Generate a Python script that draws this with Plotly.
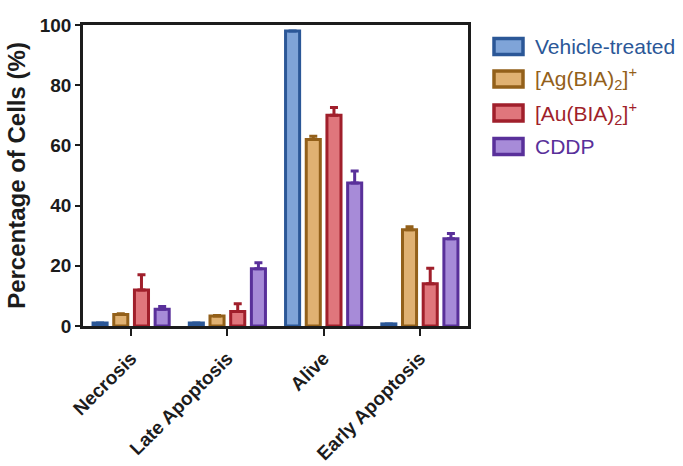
import plotly.graph_objects as go

# Flow-cytometry outcome categories
categories = ["Necrosis", "Late Apoptosis", "Alive", "Early Apoptosis"]

# Mean percentage of cells per treatment
vehicle = [1.0, 1.0, 98.0, 0.7]
ag_bia = [3.8, 3.3, 62.0, 32.0]
au_bia = [12.0, 4.8, 70.0, 14.0]
cddp = [5.6, 19.0, 47.5, 29.0]

# Upper error (SD) per treatment
vehicle_err = [0.0, 0.0, 0.0, 0.0]
ag_bia_err = [0.3, 0.2, 1.0, 1.0]
au_bia_err = [5.0, 2.6, 2.6, 5.2]
cddp_err = [0.9, 2.0, 4.0, 1.7]

series_names = ["Vehicle-treated", "[Ag(BIA)<sub>2</sub>]<sup>+</sup>",
                "[Au(BIA)<sub>2</sub>]<sup>+</sup>", "CDDP"]
fills = ["#7fa4d8", "#e0b172", "#e0767c", "#a78bd8"]
edges = ["#2b5797", "#93601a", "#a01f2b", "#59309a"]

fig = go.Figure()
for vals, errs, fill, edge in zip([vehicle, ag_bia, au_bia, cddp],
                                  [vehicle_err, ag_bia_err, au_bia_err, cddp_err],
                                  fills, edges):
    fig.add_trace(go.Bar(
        x=categories, y=vals,
        marker=dict(color=fill, line=dict(color=edge, width=3)),
        error_y=dict(type="data", symmetric=False, array=errs,
                     arrayminus=[0] * len(errs), color=edge,
                     thickness=3, width=4),
        showlegend=False,
    ))

# Legend drawn as framed swatches with coloured labels
L, R, T, B = 83, 215, 25, 140
pw, ph = 683 - L - R, 466 - T - B
centers = [46.5, 79, 113, 146.5]
for name, fill, edge, cy in zip(series_names, fills, edges, centers):
    x0 = (494 - L) / pw
    x1 = (523 - L) / pw
    y0 = (466 - B - (cy + 8)) / ph
    y1 = (466 - B - (cy - 8)) / ph
    fig.add_shape(type="rect", xref="paper", yref="paper",
                  x0=x0, x1=x1, y0=y0, y1=y1,
                  fillcolor=fill, line=dict(color=edge, width=3.5))
    fig.add_annotation(xref="paper", yref="paper",
                       x=(533 - L) / pw, y=(466 - B - cy) / ph,
                       xanchor="left", yanchor="middle", showarrow=False,
                       text=name, font=dict(family="Liberation Sans", size=21, color=edge))

axis_col = "#1c1c1c"
fig.update_layout(
    width=683, height=466,
    margin=dict(l=L, r=R, t=T, b=B, autoexpand=False),
    paper_bgcolor="white", plot_bgcolor="white",
    barmode="group", bargap=0.14, bargroupgap=0.32,
    font=dict(family="Liberation Sans", color=axis_col),
    xaxis=dict(
        range=[-0.5, 3.5], showline=True, linecolor=axis_col, linewidth=2.5,
        mirror=True, ticks="outside", ticklen=7, tickwidth=2, tickcolor=axis_col,
        tickangle=-45, showgrid=False, automargin=False, ticklabelstandoff=4,
        tickfont=dict(family="Liberation Sans", size=19, weight="bold", color=axis_col),
    ),
    yaxis=dict(
        range=[0, 100], tickvals=[0, 20, 40, 60, 80, 100],
        showline=True, linecolor=axis_col, linewidth=2.5, mirror=True,
        ticks="outside", ticklen=5, tickwidth=2, tickcolor=axis_col,
        showgrid=False, zeroline=False, automargin=False,
        tickfont=dict(family="Liberation Sans", size=19, weight="bold", color=axis_col),
        title=dict(text="Percentage of Cells (%)", standoff=8,
                   font=dict(family="Liberation Sans", size=24, weight="bold", color=axis_col)),
    ),
)

fig.write_html("out.html")
